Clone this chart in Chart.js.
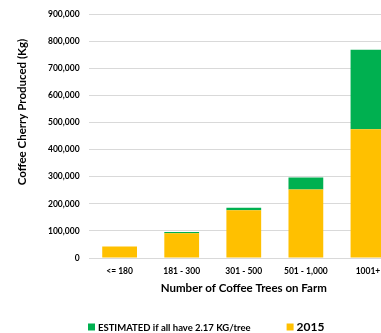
<!DOCTYPE html>
<html>
<head>
<meta charset="utf-8">
<script src="https://cdn.jsdelivr.net/npm/chart.js@4"></script>
<style>
html,body{margin:0;padding:0;background:#fff;overflow:hidden;width:381px;height:333px;}
canvas{display:block;}
</style>
</head>
<body>
<canvas id="c" width="399" height="333"></canvas>
<script>
const categories = ["<= 180", "181 - 300", "301 - 500", "501 - 1,000", "1001+"];
const actual2015 = [42000, 91000, 176000, 253000, 475000];
const estimatedExtra = [0, 5000, 9000, 44000, 293000];
const yTicks = [0, 100000, 200000, 300000, 400000, 500000, 600000, 700000, 800000, 900000];
const yTitle = 'Coffee Cherry Produced (Kg)';
const xTitle = 'Number of Coffee Trees on Farm';

const FONT = "Lato, 'Open Sans', sans-serif";

// Custom legend (estimated first, then 2015 in larger text) and y-axis title placed as in the original
const extrasPlugin = {
  id: 'extras',
  afterDraw(chart) {
    const ctx = chart.ctx;
    const ds = chart.data.datasets;
    ctx.save();
    // y-axis title
    ctx.translate(22, 112);
    ctx.rotate(-Math.PI / 2);
    ctx.font = 'bold 11.5px ' + FONT;
    ctx.fillStyle = '#000';
    ctx.textAlign = 'center';
    ctx.textBaseline = 'middle';
    ctx.fillText(yTitle, 0, 0);
    ctx.restore();

    const items = [
      { text: ds[1].label, color: ds[1].backgroundColor, size: 9.5 },
      { text: ds[0].label, color: ds[0].backgroundColor, size: 12 }
    ];
    const y = 327;
    let x = 88;
    ctx.save();
    ctx.textBaseline = 'middle';
    ctx.textAlign = 'left';
    items.forEach((it) => {
      ctx.fillStyle = it.color;
      ctx.fillRect(x, y - 3.5, 7, 7);
      x += 10;
      ctx.font = 'bold ' + it.size + 'px ' + FONT;
      ctx.fillStyle = '#000';
      ctx.fillText(it.text, x, y + 0.5);
      x += ctx.measureText(it.text).width + 36;
    });
    ctx.restore();
  }
};

new Chart(document.getElementById('c'), {
  type: 'bar',
  data: {
    labels: categories,
    datasets: [
      { label: '2015', data: actual2015, backgroundColor: '#FFC000', stack: 's' },
      { label: 'ESTIMATED if all have 2.17 KG/tree', data: estimatedExtra, backgroundColor: '#00B050', stack: 's' }
    ]
  },
  plugins: [extrasPlugin],
  options: {
    responsive: false,
    animation: false,
    categoryPercentage: 1,
    barPercentage: 0.56,
    layout: { padding: { top: 10, left: 39, right: 0, bottom: 38 } },
    plugins: {
      tooltip: { enabled: false },
      legend: { display: false }
    },
    scales: {
      x: {
        stacked: true,
        grid: { display: false, drawTicks: false },
        border: { display: false },
        ticks: { color: '#000', font: { family: FONT, size: 8.5, weight: 'bold' }, padding: 8, maxRotation: 0 },
        title: { display: true, text: xTitle, color: '#000',
                 font: { family: FONT, size: 11.5, weight: 'bold' }, padding: { top: -3, bottom: 0 } }
      },
      y: {
        stacked: true,
        min: 0, max: 900000,
        afterBuildTicks: (axis) => { axis.ticks = yTicks.map(v => ({ value: v })); },
        grid: { color: '#D9D9D9', lineWidth: 1, drawTicks: false },
        border: { display: false },
        ticks: {
          color: '#000', padding: 9,
          font: { family: FONT, size: 8.5, weight: 'bold' },
          callback: (v) => v.toLocaleString('en-US')
        },
        title: { display: false }
      }
    }
  }
});
</script>
</body>
</html>
